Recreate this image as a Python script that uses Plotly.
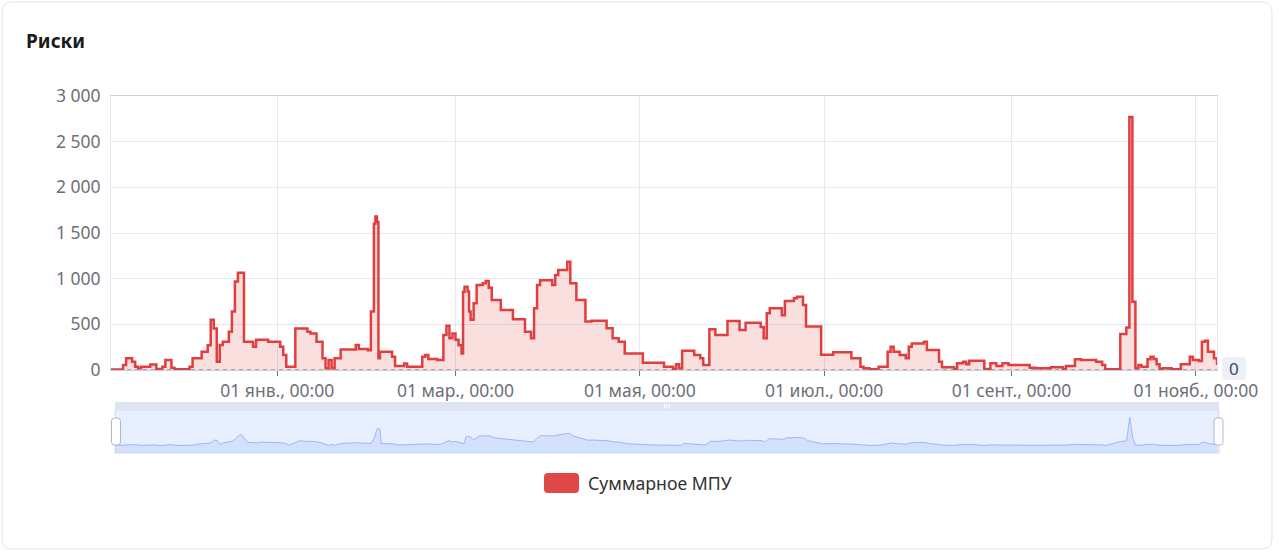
import plotly.graph_objects as go

title_text = "Риски"
series_name = "Суммарное МПУ"

dates = [
    "2024-11-07", "2024-11-11", "2024-11-12", "2024-11-14", "2024-11-15", "2024-11-16",
    "2024-11-17", "2024-11-20", "2024-11-22", "2024-11-24", "2024-11-25", "2024-11-27",
    "2024-11-28", "2024-12-03", "2024-12-04", "2024-12-07", "2024-12-09", "2024-12-10",
    "2024-12-11", "2024-12-12", "2024-12-13", "2024-12-14", "2024-12-16", "2024-12-17",
    "2024-12-18", "2024-12-19", "2024-12-21", "2024-12-24", "2024-12-25", "2024-12-29",
    "2025-01-02", "2025-01-03", "2025-01-04", "2025-01-07", "2025-01-11", "2025-01-12",
    "2025-01-14", "2025-01-16", "2025-01-17", "2025-01-18", "2025-01-19", "2025-01-20",
    "2025-01-22", "2025-01-27", "2025-01-28", "2025-01-31", "2025-02-01", "2025-02-02",
    "2025-02-02 12:00", "2025-02-03", "2025-02-03 12:00", "2025-02-04", "2025-02-08",
    "2025-02-09", "2025-02-12", "2025-02-13", "2025-02-18", "2025-02-19", "2025-02-20",
    "2025-02-23", "2025-02-25", "2025-02-26", "2025-02-27", "2025-02-28", "2025-03-01",
    "2025-03-02", "2025-03-03", "2025-03-03 12:00", "2025-03-04", "2025-03-05",
    "2025-03-05 12:00", "2025-03-06", "2025-03-07", "2025-03-08", "2025-03-10",
    "2025-03-11", "2025-03-12", "2025-03-13", "2025-03-16", "2025-03-20", "2025-03-24",
    "2025-03-26", "2025-03-27", "2025-03-28", "2025-03-29", "2025-04-02", "2025-04-03",
    "2025-04-04", "2025-04-07", "2025-04-08", "2025-04-10", "2025-04-13", "2025-04-15",
    "2025-04-20", "2025-04-22", "2025-04-24", "2025-04-26", "2025-05-02", "2025-05-09",
    "2025-05-12", "2025-05-13", "2025-05-14", "2025-05-15", "2025-05-19", "2025-05-21",
    "2025-05-22", "2025-05-24", "2025-05-26", "2025-05-30", "2025-06-03", "2025-06-05",
    "2025-06-10", "2025-06-11", "2025-06-12", "2025-06-13", "2025-06-17", "2025-06-18",
    "2025-06-21", "2025-06-22", "2025-06-24", "2025-06-25", "2025-06-30", "2025-07-04",
    "2025-07-10", "2025-07-13", "2025-07-14", "2025-07-16", "2025-07-19", "2025-07-22",
    "2025-07-23", "2025-07-24", "2025-07-26", "2025-07-28", "2025-07-29", "2025-07-30",
    "2025-08-03", "2025-08-04", "2025-08-08", "2025-08-09", "2025-08-13", "2025-08-14",
    "2025-08-16", "2025-08-17", "2025-08-18", "2025-08-23", "2025-08-25", "2025-08-27",
    "2025-08-29", "2025-08-31", "2025-09-07", "2025-09-09", "2025-09-14", "2025-09-18",
    "2025-09-19", "2025-09-22", "2025-09-24", "2025-09-29", "2025-10-01", "2025-10-02",
    "2025-10-07", "2025-10-09", "2025-10-10", "2025-10-11", "2025-10-12", "2025-10-13",
    "2025-10-14", "2025-10-16", "2025-10-17", "2025-10-18", "2025-10-19", "2025-10-20",
    "2025-10-21", "2025-10-24", "2025-10-27", "2025-10-30", "2025-10-31", "2025-11-02",
    "2025-11-03", "2025-11-04", "2025-11-05", "2025-11-07", "2025-11-08",
]

values = [
    5, 55, 128, 90, 35, 18,
    35, 60, 10, 35, 110, 25,
    8, 35, 128, 200, 270, 550,
    455, 90, 275, 310, 420, 640,
    970, 1065, 310, 255, 330, 310,
    255, 165, 35, 455, 420, 400,
    310, 128, 18, 110, 18, 128,
    225, 275, 230, 215, 640, 1600,
    1680, 1620, 128, 200, 146,
    44, 70, 36, 146, 164, 120,
    110, 383, 485, 347, 400, 330,
    270, 180, 858, 912, 860,
    640, 550, 730, 930, 950,
    975, 900, 766, 657, 555, 420,
    347, 675, 930, 982, 930, 1040,
    1095, 1186, 950, 766, 530, 540,
    456, 347, 310, 182, 80, 36,
    10, 62, 18, 212, 164, 128,
    55, 445, 383, 537, 438, 518,
    470, 347, 620, 675, 600, 755,
    785, 803, 712, 475, 168, 193,
    128, 36, 18, 7, 36, 200,
    255, 200, 164, 128, 255, 290,
    310, 220, 90, 30, 10, 73,
    91, 62, 102, 10, 73, 44,
    73, 55, 25, 18, 30, 7,
    44, 117, 110, 91, 55, 7,
    394, 464, 2770, 748, 18, 55,
    36, 117, 146, 120, 62, 10,
    18, 7, 62, 146, 110, 98,
    310, 321, 200, 128, 55,
]

x_tick_dates = ["2025-01-01", "2025-03-01", "2025-05-01", "2025-07-01", "2025-09-01", "2025-11-01"]
x_tick_labels = ["01 янв., 00:00", "01 мар., 00:00", "01 мая, 00:00",
                 "01 июл., 00:00", "01 сент., 00:00", "01 нояб., 00:00"]
y_tick_values = [0, 500, 1000, 1500, 2000, 2500, 3000]
y_tick_labels = ["0", "500", "1 000", "1 500", "2 000", "2 500", "3 000"]

# ---- layout helpers (pixel -> paper) ----
W, H = 1279, 555
ML, MR, MT, MB = 111, 62, 96, 102
PW, PH = W - ML - MR, H - MT - MB


def px(x):
    return (x - ML) / PW


def py(y):
    return (H - MB - y) / PH


def rrect(x0, y0, x1, y1, r):
    return (f"M{px(x0 + r)},{py(y0)} L{px(x1 - r)},{py(y0)} "
            f"Q{px(x1)},{py(y0)} {px(x1)},{py(y0 + r)} "
            f"L{px(x1)},{py(y1 - r)} Q{px(x1)},{py(y1)} {px(x1 - r)},{py(y1)} "
            f"L{px(x0 + r)},{py(y1)} Q{px(x0)},{py(y1)} {px(x0)},{py(y1 - r)} "
            f"L{px(x0)},{py(y0 + r)} Q{px(x0)},{py(y0)} {px(x0 + r)},{py(y0)} Z")


RED = "#E13F3F"
FONT = "Noto Sans"
GRID = "#E3E8F2"
LABEL = "#6E7079"
TICK_SIZE = 17.5

fig = go.Figure()

fig.add_trace(go.Scatter(
    x=dates, y=values, mode="lines", name=series_name,
    line=dict(color=RED, width=2.5, shape="hv"),
    fill="tozeroy", fillcolor="rgba(225,63,63,0.17)",
    xaxis="x", yaxis="y", hoverinfo="x+y",
))

fig.add_trace(go.Scatter(
    x=dates, y=values, mode="lines", showlegend=False,
    line=dict(color="#9DB8F5", width=1),
    fill="tozeroy", fillcolor="rgba(143,176,247,0.22)",
    xaxis="x2", yaxis="y2", hoverinfo="skip",
))

MINI_LO, MINI_HI = -734, 3491

shapes = [
    dict(type="path", xref="paper", yref="paper", path=rrect(2, 2, 1272, 549, 10),
         line=dict(color="#E4E4E4", width=1), fillcolor="rgba(0,0,0,0)", layer="below"),
    dict(type="rect", xref="paper", yref="paper", x0=px(115), x1=px(1219), y0=py(453), y1=py(410),
         fillcolor="#E8EFFE", line=dict(color="#D2DBEE", width=1), layer="below"),
    dict(type="rect", xref="x2 domain", yref="y2", x0=0, x1=1, y0=MINI_LO, y1=0,
         fillcolor="rgba(143,176,247,0.22)", line=dict(width=0), layer="below"),
    dict(type="rect", xref="paper", yref="paper", x0=px(115), x1=px(1219), y0=py(410), y1=py(402),
         fillcolor="#DEE4F1", line=dict(width=0), layer="below"),
    dict(type="path", xref="paper", yref="paper", path=rrect(111.5, 418, 120.5, 445, 3),
         fillcolor="#FFFFFF", line=dict(color="#ACB8D1", width=1), layer="above"),
    dict(type="path", xref="paper", yref="paper", path=rrect(1214, 418, 1223, 445, 3),
         fillcolor="#FFFFFF", line=dict(color="#ACB8D1", width=1), layer="above"),
    dict(type="line", xref="paper", yref="y", x0=0, x1=1, y0=0, y1=0,
         line=dict(color="#66758C", width=1.2, dash="4px,4px"), layer="above"),
    dict(type="path", xref="paper", yref="paper", path=rrect(544, 473, 579, 493, 4),
         fillcolor="#E04848", line=dict(width=0)),
    # background pill of the zero-line label
    dict(type="path", xref="paper", yref="paper", path=rrect(1222, 357, 1246, 380, 4),
         fillcolor="#EDF1F7", line=dict(width=0), layer="below"),
]
for gx in (664.5, 667, 669.5):
    shapes.append(dict(type="line", xref="paper", yref="paper", x0=px(gx), x1=px(gx),
                       y0=py(404), y1=py(408.5), line=dict(color="#FFFFFF", width=1)))

annotations = [
    dict(text=f"<b>{title_text}</b>", xref="paper", yref="paper", x=px(24), y=py(41),
         xanchor="left", yanchor="middle", showarrow=False,
         font=dict(family=FONT, size=19, color="#1B1B1B")),
    dict(text=series_name, xref="paper", yref="paper", x=px(586), y=py(483),
         xanchor="left", yanchor="middle", showarrow=False,
         font=dict(family=FONT, size=17.7, color="#333333")),
    dict(text="0", xref="paper", yref="y", x=px(1234), y=0, yshift=2,
         xanchor="center", yanchor="middle", showarrow=False,
         font=dict(family=FONT, size=17, color="#3C4A60")),
]

fig.update_layout(
    width=W, height=H,
    margin=dict(l=ML, r=MR, t=MT, b=MB, pad=0),
    paper_bgcolor="#FFFFFF", plot_bgcolor="rgba(0,0,0,0)",
    showlegend=False,
    font=dict(family=FONT, size=16, color=LABEL),
    xaxis=dict(
        type="date", domain=[0, 1], anchor="y", range=[dates[0], dates[-1]],
        tickvals=x_tick_dates, ticktext=x_tick_labels,
        showgrid=True, gridcolor=GRID, gridwidth=1,
        ticks="outside", ticklen=5, tickcolor="#6E7079",
        tickfont=dict(family=FONT, size=TICK_SIZE, color=LABEL),
        showline=True, linecolor="#C8D1E0", mirror=True, zeroline=False,
    ),
    yaxis=dict(
        domain=[py(370), 1], anchor="x", range=[0, 3000],
        tickvals=y_tick_values, ticktext=y_tick_labels,
        showgrid=True, gridcolor=GRID, gridwidth=1,
        ticks="", ticklabelstandoff=6,
        tickfont=dict(family=FONT, size=TICK_SIZE, color=LABEL),
        showline=True, linecolor=GRID, mirror=True, zeroline=False,
    ),
    xaxis2=dict(
        type="date", domain=[px(115), 1], anchor="y2", range=[dates[0], dates[-1]],
        visible=False, showgrid=False,
    ),
    yaxis2=dict(
        domain=[0, py(410)], anchor="x2", range=[MINI_LO, MINI_HI],
        visible=False, showgrid=False,
    ),
    shapes=shapes,
    annotations=annotations,
)

fig.write_html(
    "out.html",
    config={"displayModeBar": False},
    post_script="document.body.style.margin='0';document.body.style.overflow='hidden';",
)
